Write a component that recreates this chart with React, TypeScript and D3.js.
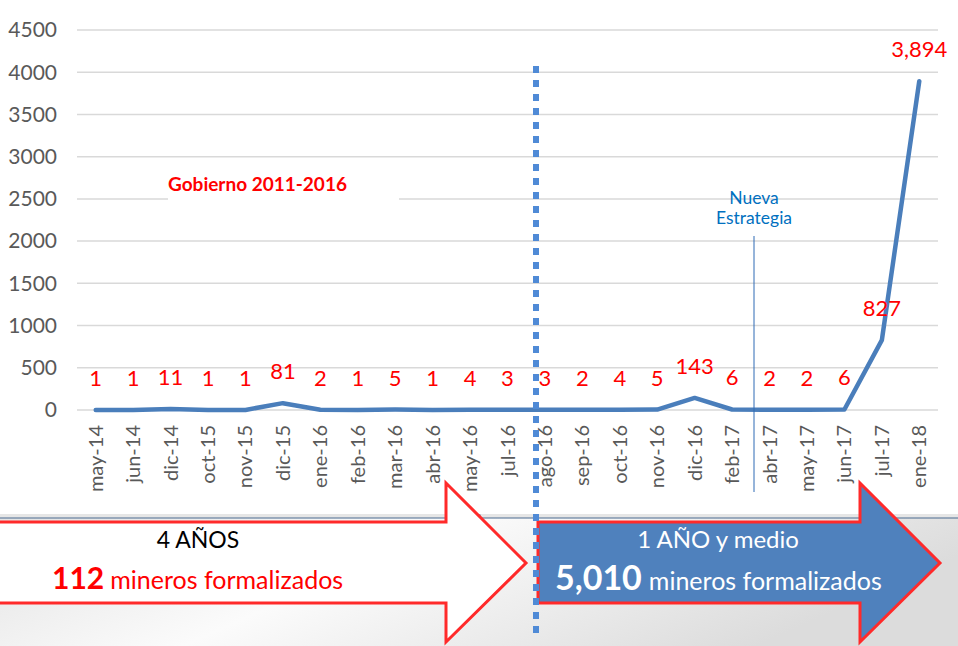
import * as d3 from 'd3'

// monthly formalizations
const months = [
  'may-14', 'jun-14', 'dic-14', 'oct-15', 'nov-15', 'dic-15', 'ene-16', 'feb-16',
  'mar-16', 'abr-16', 'may-16', 'jul-16', 'ago-16', 'sep-16', 'oct-16', 'nov-16',
  'dic-16', 'feb-17', 'abr-17', 'may-17', 'jun-17', 'jul-17', 'ene-18',
]
const values = [1, 1, 11, 1, 1, 81, 2, 1, 5, 1, 4, 3, 3, 2, 4, 5, 143, 6, 2, 2, 6, 827, 3894]
const yTicks = [0, 500, 1000, 1500, 2000, 2500, 3000, 3500, 4000, 4500]

const W = 958
const H = 646
const FONT = 'Lato, "Noto Sans", sans-serif'

// arrow shape: body from x0 to headX, head to tip
function arrowPath(x0: number, headX: number, tipX: number) {
  const p = d3.path()
  p.moveTo(x0, 522)
  p.lineTo(headX, 522)
  p.lineTo(headX, 483)
  p.lineTo(tipX, 563)
  p.lineTo(headX, 642)
  p.lineTo(headX, 603)
  p.lineTo(x0, 603)
  p.closePath()
  return p.toString()
}

export default function App() {
  const x = d3.scaleBand().domain(months).range([77, 938])
  const y = d3.scaleLinear().domain([0, 4500]).range([410, 30])
  const cx = (m: string) => (x(m) || 0) + x.bandwidth() / 2
  const fmt = d3.format(',')

  const line = d3.line<number>()
    .x((_, i) => cx(months[i]))
    .y(d => y(d))

  return (
    <svg width={W} height={H} style={{ position: 'fixed', left: 0, top: 0, background: '#fff' }}>
      <defs>
        <linearGradient id="bg" x1="0" x2="1" y1="0" y2="0.3">
          <stop offset="0%" stopColor="#e2e2e2" />
          <stop offset="45%" stopColor="#fbfbfb" />
          <stop offset="100%" stopColor="#dcdcdc" />
        </linearGradient>
      </defs>

      {/* slide background below the chart */}
      <rect x={0} y={518} width={W} height={H - 518} fill="url(#bg)" />
      <rect x={0} y={514} width={W} height={4} fill="#e6e6e6" />
      <line x1={0} x2={W} y1={518} y2={518} stroke="#4a6b8f" strokeWidth={1.2} />
      <rect x={474} y={515} width={6} height={6} fill="#dff0f7" stroke="#4a6b8f" strokeWidth={1} />

      {/* grid */}
      {yTicks.map(t => (
        <g key={t}>
          <line x1={77} x2={938} y1={y(t)} y2={y(t)} stroke="#d9d9d9" strokeWidth={1.5} />
          <text x={57} y={y(t)} dy="0.35em" textAnchor="end" fontFamily={FONT}
            fontSize={21} fill="#595959">{t}</text>
        </g>
      ))}

      {/* box behind the government label */}
      <rect x={168} y={170} width={231} height={34} fill="#fff" />
      <text x={168} y={191} fontFamily={FONT} fontSize={19} fontWeight={700} fill="#ff0000">
        Gobierno 2011-2016
      </text>

      <path d={line(values) || ''} fill="none" stroke="#4a7ebb" strokeWidth={4.5}
        strokeLinejoin="round" strokeLinecap="round" />

      {values.map((v, i) => (
        <text key={months[i]} x={cx(months[i])} y={y(v) - 24} textAnchor="middle"
          fontFamily={FONT} fontSize={22} fill="#ff0000">{fmt(v)}</text>
      ))}

      {months.map(m => (
        <text key={m} transform={`translate(${cx(m)},425) rotate(-90)`} dy="0.35em"
          textAnchor="end" fontFamily={FONT} fontSize={20} fill="#595959">{m}</text>
      ))}

      {/* Nueva Estrategia marker */}
      <line x1={754} x2={754} y1={236} y2={492} stroke="#2e6bb5" strokeWidth={1} />
      <text x={754} y={204} textAnchor="middle" fontFamily={FONT} fontSize={17.5} fill="#0070c0">Nueva</text>
      <text x={754} y={224} textAnchor="middle" fontFamily={FONT} fontSize={17.5} fill="#0070c0">Estrategia</text>

      {/* arrows */}
      <path d={arrowPath(-5, 446, 526)} fill="#fff" stroke="#ff2a2a" strokeWidth={3} />
      <text x={198} y={548} textAnchor="middle" fontFamily={FONT} fontSize={23} fill="#000">4 AÑOS</text>
      <text x={52} y={589} fontFamily={FONT} fill="#ff0000">
        <tspan fontSize={30} fontWeight={700}>112</tspan>
        <tspan fontSize={25} dx={6}>mineros formalizados</tspan>
      </text>

      <path d={arrowPath(538, 860, 940)} fill="#4f81bd" stroke="#ff2a2a" strokeWidth={3} />
      <text x={718} y={548} textAnchor="middle" fontFamily={FONT} fontSize={24} fill="#fff">1 AÑO y medio</text>
      <text x={555} y={590} fontFamily={FONT} fill="#fff">
        <tspan fontSize={34} fontWeight={700}>5,010</tspan>
        <tspan fontSize={25} dx={7}>mineros formalizados</tspan>
      </text>

      {/* dotted split line */}
      <line x1={536} x2={536} y1={66} y2={640} stroke="#4f8ad6" strokeWidth={6} strokeDasharray="7 7" />
    </svg>
  )
}
